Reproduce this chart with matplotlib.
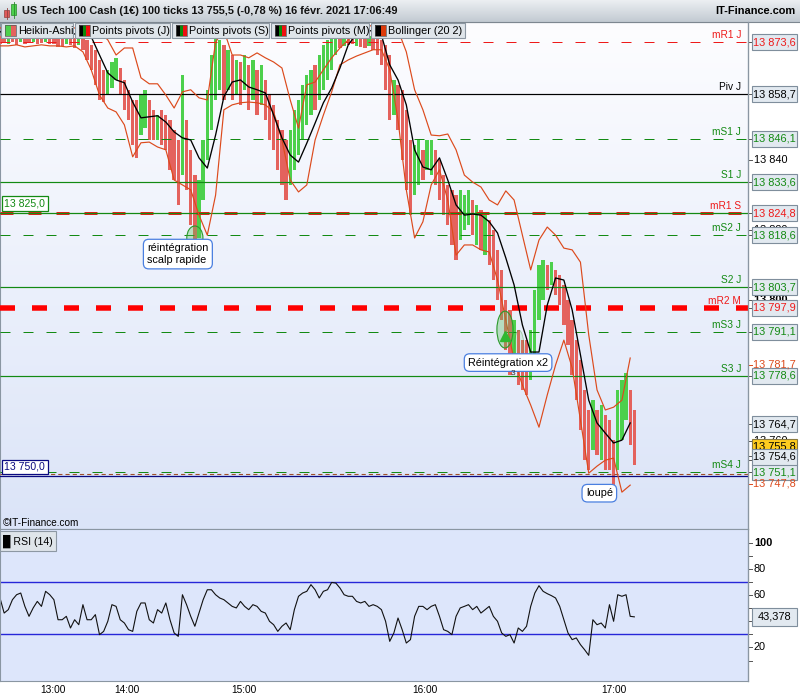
import matplotlib
matplotlib.use("Agg")
import matplotlib.pyplot as plt
import matplotlib.transforms as mtransforms
from matplotlib.colors import LinearSegmentedColormap
from matplotlib.patches import Rectangle, Ellipse
import numpy as np

plt.rcParams['font.family'] = ['Liberation Sans', 'DejaVu Sans']
plt.rcParams['lines.scale_dashes'] = False

W, H = 800, 700
PX = 4.146  # screen width of one 100-tick bar

# ---------------- data ----------------
# Heikin-Ashi bars: top / bottom of each bar and its colour
hi = [13875.3, 13875.1, 13874.8, 13875.3, 13874.8, 13875.1, 13874.8, 13875.1, 13875.3, 13874.8,
      13875.1, 13875.3, 13874.8, 13875.1, 13874.5, 13874.8, 13875.3, 13875.1, 13874.8, 13875.3,
      13874.8, 13874.2, 13872.8, 13871.4, 13868.5, 13865.7, 13865.7, 13867.9, 13869.1, 13866.2,
      13862.8, 13860.0, 13857.1, 13857.1, 13858.5, 13860.0, 13857.1, 13854.3, 13852.8, 13854.3,
      13852.8, 13851.4, 13848.6, 13845.7, 13864.2, 13851.4, 13842.9, 13835.7, 13834.3, 13845.7,
      13860.0, 13869.9, 13874.8, 13874.2, 13872.8, 13871.4, 13869.9, 13868.5, 13867.9, 13869.9,
      13867.1, 13868.5, 13865.7, 13867.1, 13862.8, 13858.5, 13855.7, 13851.4, 13848.6, 13845.7,
      13848.6, 13854.3, 13857.1, 13861.4, 13864.2, 13865.7, 13867.1, 13869.9, 13872.8, 13874.2,
      13875.3, 13875.9, 13875.3, 13875.6, 13875.3, 13875.6, 13875.3, 13875.3, 13875.1, 13875.3,
      13875.1, 13874.8, 13874.2, 13872.8, 13869.9, 13862.8, 13861.4, 13860.0, 13854.3, 13845.7,
      13844.3, 13845.7, 13842.9, 13845.7, 13845.7, 13842.9, 13840.0, 13835.7, 13832.9, 13831.5,
      13830.0, 13831.5, 13830.0, 13831.5, 13828.6, 13827.2, 13825.8, 13824.3, 13822.9, 13820.1,
      13814.4, 13808.7, 13800.1, 13797.3, 13794.4, 13791.6, 13788.7, 13788.7, 13791.6, 13803.0,
      13810.1, 13811.5, 13810.1, 13810.9, 13808.7, 13807.3, 13804.4, 13800.1, 13794.4, 13788.7,
      13783.0, 13774.5, 13768.8, 13771.6, 13768.8, 13770.2, 13767.4, 13765.9, 13760.2, 13774.5,
      13777.3, 13779.3, 13774.5, 13768.8]
lo = [13873.1, 13873.3, 13873.1, 13873.6, 13872.8, 13873.6, 13873.1, 13873.3, 13873.6, 13873.1,
      13873.3, 13873.6, 13873.1, 13873.1, 13872.2, 13872.5, 13873.1, 13872.8, 13871.9, 13872.8,
      13871.4, 13868.5, 13865.7, 13861.4, 13857.1, 13856.5, 13858.5, 13860.5, 13862.8, 13858.5,
      13854.3, 13851.4, 13844.3, 13840.6, 13847.1, 13849.1, 13845.7, 13845.7, 13845.7, 13844.3,
      13842.9, 13837.2, 13834.3, 13827.2, 13835.7, 13831.5, 13821.5, 13817.2, 13817.8, 13828.6,
      13840.0, 13848.6, 13857.1, 13860.0, 13857.1, 13860.0, 13857.1, 13858.5, 13855.7, 13860.0,
      13854.3, 13857.1, 13852.8, 13855.7, 13851.4, 13845.7, 13842.9, 13837.2, 13832.9, 13828.6,
      13832.9, 13837.2, 13841.4, 13845.7, 13850.0, 13852.8, 13854.3, 13857.1, 13860.0, 13862.8,
      13865.7, 13869.9, 13871.9, 13872.5, 13872.8, 13873.1, 13872.5, 13872.2, 13871.9, 13872.5,
      13871.4, 13869.9, 13867.1, 13860.0, 13851.4, 13852.8, 13848.6, 13840.0, 13831.5, 13824.3,
      13830.0, 13832.9, 13834.3, 13837.2, 13835.7, 13832.9, 13828.6, 13824.3, 13821.5, 13815.8,
      13811.5, 13817.2, 13820.1, 13821.5, 13818.6, 13815.8, 13814.4, 13812.9, 13810.1, 13805.8,
      13800.1, 13794.4, 13785.9, 13778.8, 13780.2, 13775.9, 13774.5, 13773.1, 13777.3, 13780.2,
      13794.4, 13800.1, 13803.0, 13804.4, 13801.6, 13798.7, 13793.0, 13787.3, 13778.8, 13771.6,
      13763.1, 13754.5, 13751.7, 13757.4, 13756.0, 13754.5, 13751.7, 13751.7, 13747.4, 13751.7,
      13760.2, 13765.9, 13758.8, 13753.1]
bar_col = ("rrgrrgrrgrrgrrrrgrrg" "rrrrrrgggr" "rrrrggrrgr" "rrrrgrrrgg" "ggggrgrgrg"
           "rgrgrrrrrr" "ggggggrggg" "ggrgrrgrrg" "rrrrrgrrrr" "ggrggrrrrr"
           "rgggrgrgrr" "rrrrgrrrgg" "ggrgrrrrrr" "rrrgrgrrrg" "ggrr")

# Bollinger (20 2), one value every second bar
bb_up = [13877.6, 13877.6, 13877.6, 13877.3, 13877.6, 13877.6, 13877.6, 13877.6, 13877.6, 13877.6,
         13877.6, 13877.6, 13876.5, 13874.2, 13869.9, 13871.9, 13871.9, 13863.4, 13861.7, 13861.7,
         13858.5, 13854.8, 13859.4, 13860.0, 13857.7, 13857.1, 13873.6, 13877.0, 13869.9, 13869.9,
         13869.1, 13870.5, 13869.1, 13867.9, 13866.2, 13857.1, 13849.1, 13861.4, 13862.2, 13865.7,
         13869.1, 13871.9, 13874.2, 13877.0, 13877.6, 13878.5, 13878.5, 13878.5, 13877.0, 13870.8,
         13860.0, 13854.3, 13847.1, 13846.9, 13847.4, 13842.9, 13835.7, 13833.7, 13832.3, 13828.6,
         13827.2, 13831.2, 13828.6, 13818.6, 13808.7, 13817.2, 13820.9, 13818.6, 13814.9, 13814.4,
         13810.9, 13790.2, 13774.5, 13768.8, 13769.6, 13771.6, 13783.6]
bb_mid = [13876.5, 13876.5, 13876.5, 13876.5, 13876.5, 13876.5, 13876.2, 13876.2, 13876.2, 13875.9,
          13875.6, 13875.1, 13869.9, 13864.8, 13862.8, 13862.0, 13856.5, 13852.0, 13852.3, 13852.6,
          13850.8, 13848.0, 13846.3, 13845.7, 13840.6, 13837.7, 13847.1, 13858.0, 13862.2, 13862.8,
          13860.8, 13860.0, 13859.1, 13852.8, 13846.3, 13841.4, 13839.4, 13844.8, 13850.5, 13856.3,
          13860.5, 13866.2, 13872.8, 13875.9, 13876.8, 13876.8, 13875.6, 13867.1, 13862.8, 13855.7,
          13842.9, 13838.0, 13837.2, 13840.6, 13834.3, 13827.2, 13824.3, 13824.6, 13824.3, 13822.4,
          13819.2, 13812.1, 13804.4, 13793.0, 13785.3, 13785.3, 13798.7, 13806.4, 13805.8, 13797.3,
          13784.5, 13771.6, 13765.1, 13762.2, 13759.4, 13760.2, 13765.1]
bb_lo = [13872.5, 13872.5, 13872.8, 13872.2, 13872.5, 13872.8, 13872.5, 13872.5, 13872.2, 13872.5,
         13870.8, 13865.7, 13858.5, 13854.8, 13853.7, 13850.0, 13840.9, 13844.9, 13845.1, 13843.7,
         13842.9, 13834.3, 13832.9, 13831.5, 13824.3, 13818.6, 13830.0, 13854.3, 13855.7, 13856.3,
         13856.5, 13856.3, 13855.7, 13853.7, 13845.7, 13834.3, 13830.9, 13832.9, 13845.7, 13852.8,
         13859.4, 13867.1, 13868.5, 13869.6, 13870.5, 13871.4, 13871.4, 13865.7, 13851.4, 13831.5,
         13817.8, 13822.4, 13832.9, 13837.2, 13828.6, 13812.9, 13815.8, 13815.8, 13814.4, 13813.8,
         13805.8, 13794.4, 13783.0, 13775.9, 13770.2, 13763.9, 13773.1, 13781.6, 13788.7, 13780.8,
         13765.9, 13750.8, 13752.8, 13754.5, 13755.1, 13745.4, 13747.4]

rsi = [57.8, 46.3, 48.9, 56.5, 60.3, 61.6, 51.4, 43.8, 50.2, 55.2,
       51.4, 62.9, 60.3, 56.5, 41.2, 41.2, 43.8, 34.9, 41.2, 37.4,
       52.7, 41.2, 41.2, 45.1, 29.8, 32.3, 40.0, 52.7, 51.4, 41.2,
       38.7, 33.6, 32.3, 47.6, 54.0, 54.0, 41.2, 38.7, 48.9, 46.3,
       54.0, 41.2, 31.1, 28.5, 60.3, 52.7, 43.8, 36.2, 46.3, 56.5,
       64.1, 64.1, 60.3, 57.8, 56.5, 54.0, 51.4, 50.2, 55.2, 51.4,
       48.9, 52.7, 51.4, 47.6, 46.3, 40.0, 37.4, 32.3, 36.2, 38.7,
       33.6, 48.9, 59.1, 61.6, 62.9, 68.0, 64.1, 57.8, 62.9, 64.1,
       69.7, 69.2, 65.4, 60.3, 59.1, 59.1, 55.2, 54.0, 55.2, 51.4,
       52.7, 51.4, 48.9, 40.0, 24.7, 31.1, 42.5, 33.6, 23.4, 26.0,
       43.8, 51.4, 51.4, 48.9, 51.4, 52.7, 43.8, 33.6, 32.3, 29.8,
       43.8, 50.2, 51.4, 52.7, 48.9, 51.4, 46.3, 48.9, 51.4, 43.8,
       40.0, 31.1, 28.5, 29.8, 23.4, 34.9, 32.3, 36.2, 51.4, 61.6,
       67.2, 62.9, 61.1, 59.6, 57.8, 51.4, 41.2, 31.1, 26.0, 27.3,
       22.2, 18.3, 14.0, 41.2, 37.4, 38.7, 34.9, 52.7, 40.0, 60.3,
       59.1, 60.3, 43.8, 43.4]

time_labels = ['13:00', '14:00', '15:00', '16:00', '17:00']
time_bars = [12.8, 30.6, 58.9, 102.5, 148.1]

piv_names = ['mR1 J', 'Piv J', 'mS1 J', 'S1 J', 'mR1 S', 'mS2 J', 'S2 J', 'mR2 M', 'mS3 J', 'S3 J', 'mS4 J']
piv_values = [13873.6, 13858.7, 13846.1, 13833.6, 13824.8, 13818.6, 13803.7, 13797.9, 13791.1, 13778.6, 13751.1]
piv_kind = ['rd', 'k', 'gd', 'g', 'rD', 'gd', 'g', 'rDD', 'gd', 'g', 'gd']

bb_labels = [13781.7, 13747.8]
box_labels = [13764.7, 13754.6]
last_price = 13755.8
price_ticks = [13840, 13820, 13800, 13760]
rsi_ticks = [100, 80, 60, 20]
rsi_last = 43.378

RED = '#e4625d'
GREEN = '#4cd04c'
BBCOL = '#dc4a1c'
PGREEN = '#138a13'
PRED = '#ee1a1a'


def fmt(v, nd=1):
    return f"{v:,.{nd}f}".replace(',', ' ').replace('.', ',')


def frac(x0, y0, x1, y1):
    return [x0 / W, 1 - y1 / H, (x1 - x0) / W, (y1 - y0) / H]


def piv_color(kind):
    if kind == 'k':
        return 'black'
    return PRED if kind.startswith('r') else PGREEN


fig = plt.figure(figsize=(8, 7), dpi=100)
fig.patch.set_facecolor('white')

ax = fig.add_axes(frac(0, 22, 748, 529))
ax_rsi = fig.add_axes(frac(0, 529, 748, 681))
ax_r = fig.add_axes(frac(748, 22, 800, 529))
ax_rr = fig.add_axes(frac(748, 529, 800, 681))

YLIM = (13734.9, 13879.3)
RLIM = (-5.6, 110.5)
XLIM = (0, 748 / PX)
PPX = (YLIM[1] - YLIM[0]) / 507   # price per pixel

# background gradient of the price panel
cm = LinearSegmentedColormap.from_list('bg', ['#fdfdff', '#dbe4f8'])
ax.imshow(np.linspace(0, 1, 256)[:, None], extent=(0, 1, 0, 1), transform=ax.transAxes,
          cmap=cm, aspect='auto', zorder=0)
ax_rsi.set_facecolor('#dde6fb')

# pivot lines
dash_px = {'rd': (10, 13), 'gd': (10, 13), 'rD': (13, 15), 'rDD': (15, 17)}
lw_px = {'rd': 1, 'gd': 1, 'rD': 3, 'rDD': 5.5, 'k': 1.2, 'g': 1.2}
for v, kind in zip(piv_values, piv_kind):
    c = '#ff0000' if kind == 'rDD' else piv_color(kind)
    ln, = ax.plot(XLIM, [v, v], color=c, lw=lw_px[kind] * 0.72, zorder=3.5,
                  solid_capstyle='butt', dash_capstyle='butt')
    if kind in dash_px:
        ln.set_dashes([d * 0.72 for d in dash_px[kind]])
ax.plot(XLIM, [13825.0, 13825.0], color=PGREEN, lw=0.9, zorder=3.6)
ax.plot(XLIM, [13750.5, 13750.5], color='#a0502a', lw=0.8, dashes=(3, 2.2), zorder=3.5)
ax.plot(XLIM, [13750.0, 13750.0], color='#0a0a80', lw=0.9, zorder=3.5)

# candles
x = np.arange(len(hi))
hi_a = np.array(hi)
lo_a = np.array(lo)
cols = [GREEN if c == 'g' else RED for c in bar_col]
ax.bar(x, hi_a - lo_a, bottom=lo_a, width=0.8, color=cols, lw=0, zorder=3)

# bollinger
xb = np.arange(0, len(hi), 2)[:len(bb_up)]
ax.plot(xb, bb_up, color=BBCOL, lw=0.85, zorder=4)
ax.plot(xb, bb_lo, color=BBCOL, lw=0.85, zorder=4)
ax.plot(xb, bb_mid, color='black', lw=0.95, zorder=4)

# pivot names
trans = mtransforms.blended_transform_factory(ax.transAxes, ax.transData)
lab_trans = mtransforms.offset_copy(trans, fig=fig, x=0, y=2, units='dots')
for v, n, kind in zip(piv_values, piv_names, piv_kind):
    ax.text(741 / 748, v, n, transform=lab_trans, ha='right', va='bottom', color=piv_color(kind),
            fontsize=7.3, zorder=6)

# left value boxes
for v, c in [(13825.0, PGREEN), (13750.0, '#0a0a80')]:
    ax.text(0.006, v, fmt(v), transform=mtransforms.offset_copy(trans, fig=fig, y=4, units='dots'),
            ha='left', va='bottom', color=c, fontsize=7.6, zorder=7,
            bbox=dict(boxstyle='square,pad=0.22', fc='white', ec=c, lw=0.9))

# annotations
ax.add_patch(Ellipse((47.0, 13817.8), 3.9, 6.8, fc=(0.35, 0.75, 0.35, 0.35), ec='#2a9a2a', lw=0.8, zorder=5))
ax.plot([46.6], [13815.8], marker='v', color='#e84040', ms=5, zorder=6)
ax.add_patch(Ellipse((121.8, 13791.7), 3.9, 10.5, fc=(0.35, 0.75, 0.35, 0.35), ec='#2a9a2a', lw=0.8, zorder=5))
ax.plot([121.8], [13790.0], marker='^', color='#30b830', ms=7, zorder=6)
ax.add_patch(Ellipse((125.2, 13786.0), 2.4, 11.0, fc=(0.35, 0.75, 0.35, 0.15), ec=(0.2, 0.6, 0.2, 0.4), lw=0.6, zorder=5))
ax.text(123.7, 13779.2, '3', fontsize=6, ha='center', va='center', color='#333333', zorder=8)
box = dict(boxstyle='round,pad=0.35,rounding_size=0.5', fc='white', ec='#4a7fe0', lw=0.9)
ax.text(35.5, 13813.2, 'réintégration\nscalp rapide', fontsize=7.8, ha='left', va='center',
        linespacing=1.25, bbox=box, zorder=7)
ax.text(112.9, 13782.3, 'Réintégration x2', fontsize=7.8, ha='left', va='center', bbox=box, zorder=7)
ax.text(141.3, 13745.1, 'loupé', fontsize=7.8, ha='left', va='center', bbox=box, zorder=7)
ax.text(0.004, 0.012, '©IT-Finance.com', transform=ax.transAxes, fontsize=7.2, va='center', zorder=7)

ax.set_xlim(XLIM)
ax.set_ylim(YLIM)
ax.set_xticks([])
ax.set_yticks([])

# RSI panel
ax_rsi.plot(XLIM, [70, 70], color='#2626d8', lw=1.0)
ax_rsi.plot(XLIM, [30, 30], color='#2626d8', lw=1.0)
ax_rsi.plot(np.arange(len(rsi)), rsi, color='#111111', lw=0.8)
ax_rsi.text(0.004, 0.965, '\u2588 RSI (14)', transform=ax_rsi.transAxes, fontsize=7.6, va='top',
            bbox=dict(boxstyle='square,pad=0.3', fc='#dfe5ea', ec='#8d98a3', lw=0.8))
ax_rsi.set_xlim(XLIM)
ax_rsi.set_ylim(RLIM)
ax_rsi.set_xticks([])
ax_rsi.set_yticks([])
tt = mtransforms.blended_transform_factory(ax_rsi.transData, ax_rsi.transAxes)
for t, b in zip(time_labels, time_bars):
    ax_rsi.text(b, -0.06, t, transform=tt, ha='center', va='center', fontsize=7.3)

for a in (ax, ax_rsi):
    for s in a.spines.values():
        s.set_color('#8a96a2')
        s.set_linewidth(0.8)

# right price scale
ax_r.set_xlim(0, 52)
ax_r.set_ylim(YLIM)
ax_r.axis('off')
for v in price_ticks:
    ax_r.plot([0, 4], [v, v], color='#555555', lw=0.7, zorder=1)
    ax_r.text(6, v, fmt(v, 0), fontsize=7.9, va='center', ha='left', zorder=1,
              fontweight='bold' if v % 100 == 0 else 'normal')
box_h = 16 * PPX
for v, kind in zip(piv_values, piv_kind):
    ax_r.plot([0, 4], [v, v], color='#555555', lw=0.7, zorder=2)
    ax_r.add_patch(Rectangle((4, v - box_h / 2), 45, box_h, fc='#e2e9f0', ec='#7f8e9c', lw=0.8, zorder=2))
    ax_r.text(26.5, v, fmt(v), fontsize=7.9, ha='center', va='center', color=piv_color(kind), zorder=2.1)
for v in bb_labels:
    ax_r.plot([0, 4], [v, v], color=BBCOL, lw=0.7, zorder=2)
    ax_r.text(26.5, v, fmt(v), fontsize=7.9, ha='center', va='center', color=BBCOL, zorder=2.1)
# crowded labels near the last price are pushed upwards, as in the platform
yl = last_price + 9 * PPX
ax_r.plot([0, 4], [last_price, last_price], color='#555555', lw=0.7, zorder=3)
ax_r.add_patch(Rectangle((4, yl - box_h / 2), 45, box_h, fc='#ffcc1e', ec='#8a7a40', lw=0.8, zorder=3))
ax_r.text(26.5, yl, fmt(last_price), fontsize=7.9, ha='center', va='center', zorder=3.1)
for v, shift in zip(box_labels, [0, 3]):
    yb = v + shift * PPX
    ax_r.plot([0, 4], [v, v], color='#555555', lw=0.7, zorder=4)
    ax_r.add_patch(Rectangle((4, yb - box_h / 2), 45, box_h, fc='#e2e9f0', ec='#7f8e9c', lw=0.8, zorder=4))
    ax_r.text(26.5, yb, fmt(v), fontsize=7.9, ha='center', va='center', zorder=4.1)

# right RSI scale
ax_rr.set_xlim(0, 52)
ax_rr.set_ylim(RLIM)
ax_rr.axis('off')
for v in range(10, 101, 10):
    ax_rr.plot([0, 4], [v, v], color='#555555', lw=0.7)
for v in rsi_ticks:
    ax_rr.text(6, v, str(v), fontsize=7.9, va='center', ha='left',
               fontweight='bold' if v == 100 else 'normal')
rb = 18 * (RLIM[1] - RLIM[0]) / 152
ax_rr.add_patch(Rectangle((4, rsi_last - rb / 2), 45, rb, fc='#e2e9f0', ec='#7f8e9c', lw=0.8, zorder=3))
ax_rr.text(26.5, rsi_last, fmt(rsi_last, 3), fontsize=7.9, ha='center', va='center', zorder=3.1)

# window chrome: title bar, indicator buttons, separators
ui = fig.add_axes([0, 0, 1, 1], zorder=10)
ui.axis('off')
tcm = LinearSegmentedColormap.from_list('tb', ['#eceff2', '#c2cad2'])
ui.imshow(np.linspace(0, 1, 64)[:, None], extent=(0, W, 22, 0), cmap=tcm, aspect='auto')
ui.plot([0, W], [21.5, 21.5], color='#7d8790', lw=0.8)
ui.add_patch(Rectangle((4, 10), 5, 7, fc='#e05a5a', ec='#904040', lw=0.5))
ui.plot([6.5, 6.5], [8, 19], color='#904040', lw=0.6)
ui.add_patch(Rectangle((11, 4), 5, 11, fc='#4cd04c', ec='#2a8a2a', lw=0.5))
ui.plot([13.5, 13.5], [2, 18], color='#2a8a2a', lw=0.6)
ui.text(22, 11.5, 'US Tech 100 Cash (1€) 100 ticks 13 755,5 (-0,78 %) 16 févr. 2021 17:06:49',
        fontsize=7.9, fontweight='bold', va='center', ha='left', color='#111111')
ui.text(795, 11.5, 'IT-Finance.com', fontsize=7.9, fontweight='bold', va='center', ha='right')

buttons = [(1, 73, 'Heikin-Ashi', [GREEN, RED]),
           (75, 170, 'Points pivots (J)', ['black', '#0a8a0a', '#ee1010']),
           (172, 269, 'Points pivots (S)', ['black', '#0a8a0a', '#ee1010']),
           (271, 369, 'Points pivots (M)', ['black', '#0a8a0a', '#ee1010']),
           (371, 465, 'Bollinger (20 2)', ['black', '#dc3a0a'])]
for x0, x1, label, icol in buttons:
    ui.add_patch(Rectangle((x0, 23), x1 - x0, 15, fc='#dfe5ea', ec='#8d98a3', lw=0.8))
    n = len(icol)
    iw = 11 / n
    for k, c in enumerate(icol):
        ui.add_patch(Rectangle((x0 + 4 + k * iw, 25), iw, 10.5, fc=c, ec='none'))
    ui.add_patch(Rectangle((x0 + 4, 25), 11, 10.5, fc='none', ec='#555555', lw=0.5))
    ui.text(x0 + 17, 30.8, label, fontsize=7.8, va='center', ha='left')

ui.plot([748, 748], [22, 681], color='#8a96a2', lw=0.9)
ui.set_xlim(0, W)
ui.set_ylim(H, 0)

fig.savefig('out.png', dpi=100)
